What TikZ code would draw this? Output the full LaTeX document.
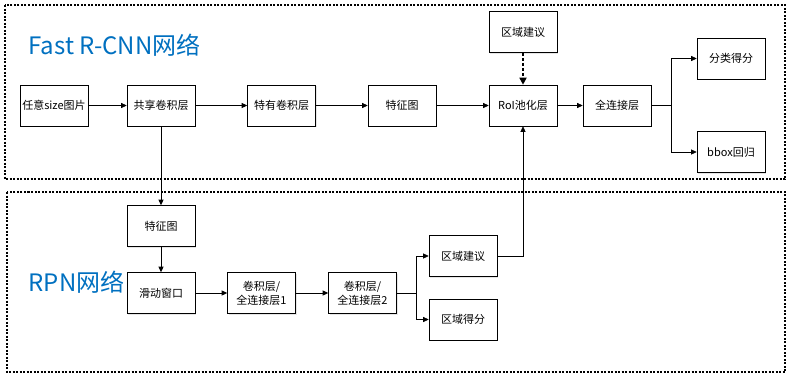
\documentclass[tikz,border=0pt]{standalone}
\usepackage{fontspec}
\setmainfont{Noto Sans CJK SC}
\usetikzlibrary{positioning, arrows.meta, shadows}
\definecolor{titleblue}{RGB}{0,112,192}

\begin{document}
\begin{tikzpicture}[x=1pt, y=-1pt, >={Triangle[length=5.5pt, width=5pt]}, semithick,
    box/.style={draw, fill=white, minimum width=68pt, minimum height=41pt, inner sep=1pt,
      align=center, font=\fontsize{11}{14}\selectfont,
      drop shadow={shadow xshift=1pt, shadow yshift=-1pt, opacity=0.2}},
    grp/.style={draw, line width=1.1pt, dash pattern=on 2pt off 1.5pt},
    title/.style={anchor=west, text=titleblue, font=\fontsize{24}{28}\selectfont}]
  \useasboundingbox (0,0) rectangle (791,378);

  % group frames
  \draw[grp] (5,5) rectangle (785,179);
  \draw[grp] (7,192) rectangle (785,372);
  \node[title] (fasttitle) at (25,45) {Fast R-CNN网络};
  \node[title] (rpntitle) at (25,282) {RPN网络};

  % Fast R-CNN row
  \node[box] (img) at (54,105.5) {任意size图片};
  \node[box] (shared) at (161,105.5) {共享卷积层};
  \node[box] (own) at (281.5,105.5) {特有卷积层};
  \node[box] (fmap) at (402,105.5) {特征图};
  \node[box] (roi) at (523,105.5) {RoI池化层};
  \node[box] (fc) at (617,105.5) {全连接层};
  \node[box] (prop) at (523,32) {区域建议};
  \node[box] (cls) at (731,58.5) {分类得分};
  \node[box] (bbox) at (731,152) {bbox回归};
  \coordinate (fcsplit) at (671,105.5);

  % RPN part
  \node[box] (fmap2) at (161,226) {特征图};
  \node[box] (slide) at (161,293) {滑动窗口};
  \node[box] (conv1) at (261.5,293) {卷积层/\\全连接层1};
  \node[box] (conv2) at (362.5,293) {卷积层/\\全连接层2};
  \node[box] (rprop) at (463,256) {区域建议};
  \node[box] (rscore) at (463,319.5) {区域得分};
  \coordinate (rpnsplit) at (416,293);

  \draw[->] (img) -- (shared);
  \draw[->] (shared) -- (own);
  \draw[->] (own) -- (fmap);
  \draw[->] (fmap) -- (roi);
  \draw[->] (roi) -- (fc);
  \draw (fc) -- (fcsplit);
  \draw[->] (fcsplit) |- (cls);
  \draw[->] (fcsplit) |- (bbox);
  \draw[->, line width=1.6pt, dash pattern=on 3pt off 2pt, >={Triangle[length=7pt, width=7pt]}] (prop) -- (roi);

  \draw[->] (shared) -- (fmap2);
  \draw[->] (fmap2) -- (slide);
  \draw[->] (slide) -- (conv1);
  \draw[->] (conv1) -- (conv2);
  \draw (conv2) -- (rpnsplit);
  \draw[->] (rpnsplit) |- (rprop);
  \draw[->] (rpnsplit) |- (rscore);
  \draw[->] (rprop.east) -| (roi.south);
\end{tikzpicture}
\end{document}
